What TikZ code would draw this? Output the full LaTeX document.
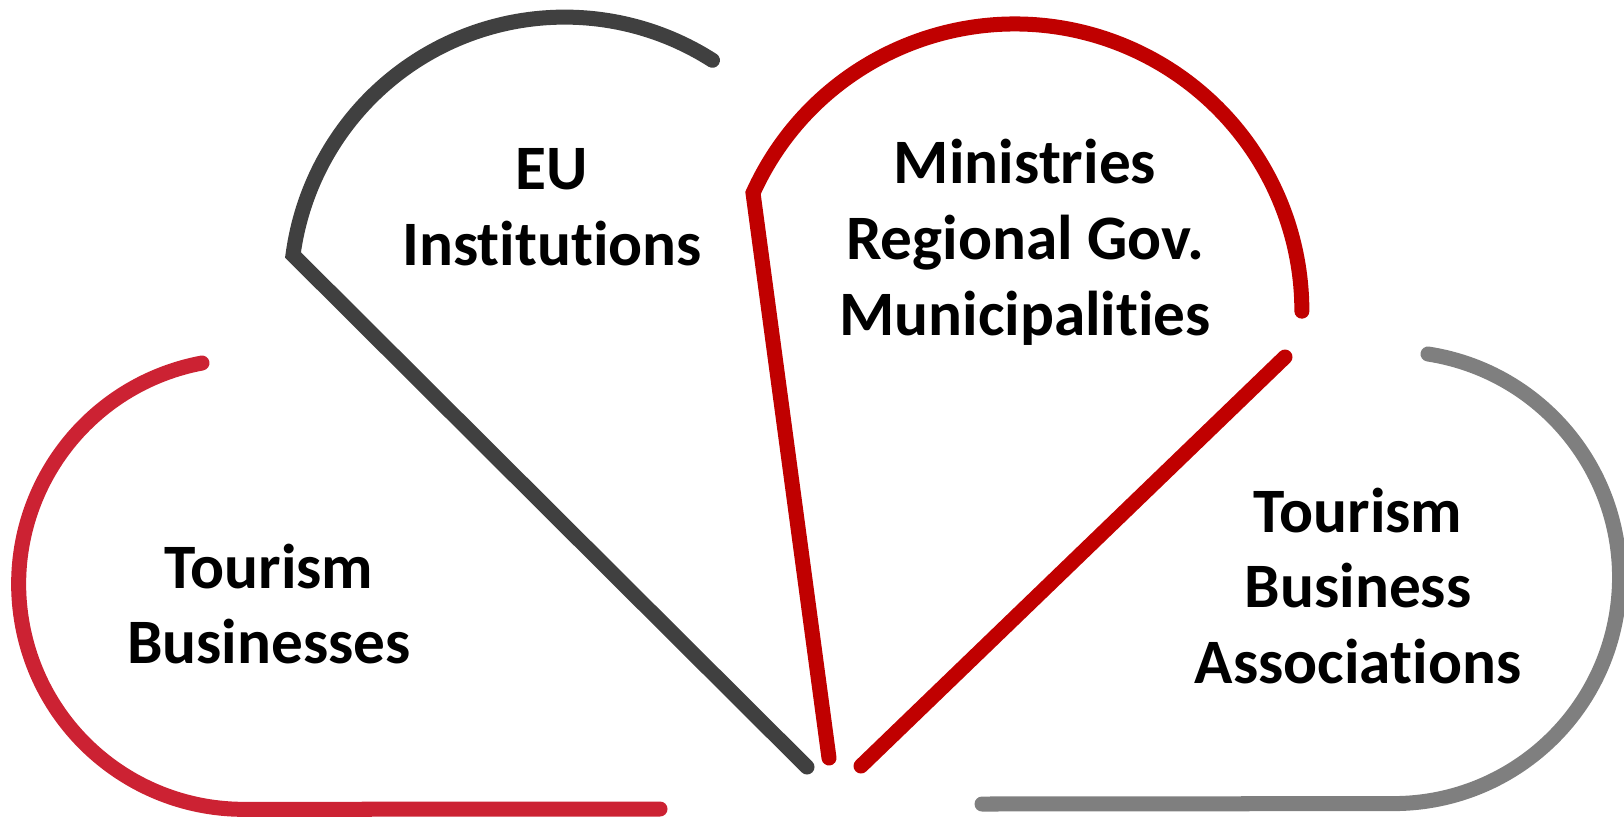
\documentclass[tikz,border=0pt]{standalone}
\usepackage{fontspec}
\setmainfont{Carlito}[Ligatures={NoCommon,NoContextual}]
\newcommand\myti{t\kern0pt i}
\definecolor{redA}{HTML}{CC2233}
\definecolor{redB}{HTML}{C00000}
\definecolor{greyA}{HTML}{404040}
\definecolor{greyB}{HTML}{7F7F7F}
\begin{document}
\begin{tikzpicture}[x=0.01cm,y=0.01cm,
  stroke/.style={line width=0.15cm, line cap=round},
  lbl/.style={align=center, font=\fontsize{18}{21.6}\selectfont\bfseries, inner sep=0pt}]
\useasboundingbox (0,0) rectangle (1624,817);
% shape 1: Tourism Businesses
\coordinate (s1a) at (202,454);
\coordinate (s1b) at (660,8);
\draw[stroke, redA] (s1a) arc[start angle=100.7, end angle=270, radius=2.25cm] -- (s1b);
% shape 2: EU Institutions
\coordinate (s2a) at (807,50);
\coordinate (s2b) at (293,562);
\draw[stroke, greyA] (s2a) -- (s2b) arc[start angle=172.4, end angle=57.4, radius=2.74cm];
% shape 3: Ministries
\coordinate (s3a) at (829,59);
\coordinate (s3b) at (753,624);
\draw[stroke, redB] (s3a) -- (s3b) arc[start angle=155.7, end angle=0, radius=2.87cm];
% shape 4: line
\coordinate (s4a) at (861,51);
\coordinate (s4b) at (1285,460);
\draw[stroke, redB] (s4a) -- (s4b);
% shape 5: Tourism Business Associations
\coordinate (s5a) at (1428,463);
\coordinate (s5b) at (982,13);
\draw[stroke, greyB] (s5a) arc[start angle=81.2, end angle=-90, radius=2.26cm] -- (s5b);
% labels
\node[lbl] (tb) at (269,213) {Tourism\\Businesses};
\node[lbl] (eu) at (552,610) {EU\\Ins\myti tu\myti ons};
\node[lbl] (min) at (1025,575) {Ministries\\Regional Gov.\\Municipali\myti es};
\node[lbl] (tba) at (1358,231) {Tourism\\Business\\Associa\myti ons};
\end{tikzpicture}
\end{document}
